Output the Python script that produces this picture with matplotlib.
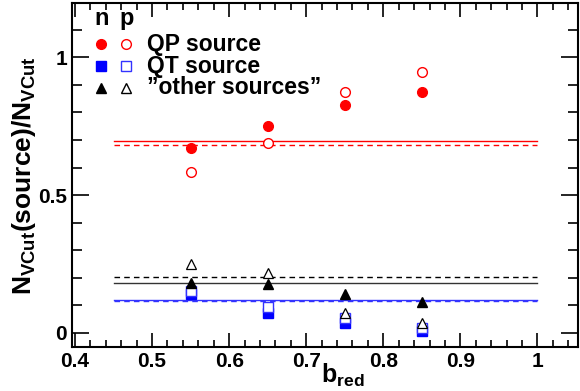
import matplotlib
matplotlib.use("Agg")
import matplotlib.pyplot as plt
from matplotlib.ticker import MultipleLocator

plt.rcParams['font.family'] = ['Liberation Sans', 'DejaVu Sans']
plt.rcParams['font.weight'] = 'bold'
plt.rcParams['mathtext.fontset'] = 'custom'
plt.rcParams['mathtext.rm'] = 'Liberation Sans:bold'
plt.rcParams['mathtext.it'] = 'Liberation Sans:bold'
plt.rcParams['mathtext.bf'] = 'Liberation Sans:bold'
plt.rcParams['mathtext.default'] = 'rm'

# --- data ---
b_red = [0.55, 0.65, 0.75, 0.85]
qp_n = [0.670, 0.752, 0.827, 0.874]
qp_p = [0.582, 0.690, 0.873, 0.946]
qt_n = [0.140, 0.070, 0.034, 0.007]
qt_p = [0.152, 0.094, 0.052, 0.016]
oth_n = [0.182, 0.176, 0.139, 0.110]
oth_p = [0.249, 0.216, 0.073, 0.034]

# mean levels (solid = n, dashed = p)
line_x = [0.45, 1.0]
qp_mean_n, qp_mean_p = 0.696, 0.682
oth_mean_n, oth_mean_p = 0.180, 0.201
qt_mean_n, qt_mean_p = 0.119, 0.116

fig = plt.figure(figsize=(5.8, 3.91), dpi=100)
ax = fig.add_axes([0.124, 0.113, 0.873, 0.879])

# horizontal lines
ax.plot(line_x, [qp_mean_n] * 2, color='red', lw=1.0)
ax.plot(line_x, [qp_mean_p] * 2, color='red', lw=1.0, ls=(0, (4, 3)))
ax.plot(line_x, [oth_mean_n] * 2, color='#333333', lw=1.0)
ax.plot(line_x, [oth_mean_p] * 2, color='black', lw=1.0, ls=(0, (4, 3)))
ax.plot(line_x, [qt_mean_n] * 2, color='#3333ff', lw=1.0)
ax.plot(line_x, [qt_mean_p] * 2, color='#3333ff', lw=1.0, ls=(0, (4, 3)))

ms = 7
ax.plot(b_red, qp_n, 'o', color='red', ms=ms, ls='none')
ax.plot(b_red, qp_p, 'o', mfc='white', mec='red', mew=1.0, ms=ms, ls='none')
ax.plot(b_red, qt_n, 's', color='blue', ms=ms, ls='none')
ax.plot(b_red, qt_p, 's', mfc='white', mec='#3333ff', mew=1.0, ms=ms, ls='none')
ax.plot(b_red, oth_n, '^', color='black', ms=ms, ls='none')
ax.plot(b_red, oth_p, '^', mfc='white', mec='black', mew=0.9, ms=ms, ls='none')

ax.set_xlim(0.396, 1.053)
ax.set_ylim(-0.051, 1.197)

ax.xaxis.set_major_locator(MultipleLocator(0.1))
ax.xaxis.set_minor_locator(MultipleLocator(0.02))
ax.yaxis.set_major_locator(MultipleLocator(0.5))
ax.yaxis.set_minor_locator(MultipleLocator(0.1))
ax.tick_params(which='both', direction='in', top=True, right=True, width=1.2)
ax.tick_params(which='major', length=10, labelsize=15)
ax.tick_params(which='minor', length=5)
ax.tick_params(axis='y', which='major', length=12)
ax.tick_params(axis='y', which='minor', length=7)
ax.set_xticks([0.4, 0.5, 0.6, 0.7, 0.8, 0.9, 1.0])
ax.set_xticklabels(['0.4', '0.5', '0.6', '0.7', '0.8', '0.9', '1'])
ax.set_yticks([0, 0.5, 1])
ax.set_yticklabels(['0', '0.5', '1'])
for s in ax.spines.values():
    s.set_linewidth(1.5)

ax.set_xlabel('b$_{red}$', fontsize=18, fontweight='bold')
ax.xaxis.set_label_coords(0.534, -0.045)
fig.text(0.042, 0.55, 'N$_{VCut}$(source)/N$_{VCut}$', fontsize=19, fontweight='bold',
         rotation=90, ha='center', va='center')

# legend by hand
tr = ax.transAxes
ax.text(0.058, 0.955, 'n', transform=tr, fontsize=17, fontweight='bold', ha='center', va='center')
ax.text(0.108, 0.955, 'p', transform=tr, fontsize=17, fontweight='bold', ha='center', va='center')
rows = [
    ('o', 'red', 'red', 'QP source', 0.880),
    ('s', 'blue', '#3333ff', 'QT source', 0.816),
    ('^', 'black', 'black', '\u201dother sources\u201d', 0.754),
]
for mk, fc, ec, label, yy in rows:
    ax.plot([0.057], [yy], mk, color=fc, ms=ms, transform=tr, clip_on=False)
    ax.plot([0.107], [yy], mk, mfc='white', mec=ec, mew=1.0, ms=ms, transform=tr, clip_on=False)
    ax.text(0.148, yy, label, transform=tr, fontsize=16.5, fontweight='bold', va='center')

fig.savefig('out.png', dpi=100)
